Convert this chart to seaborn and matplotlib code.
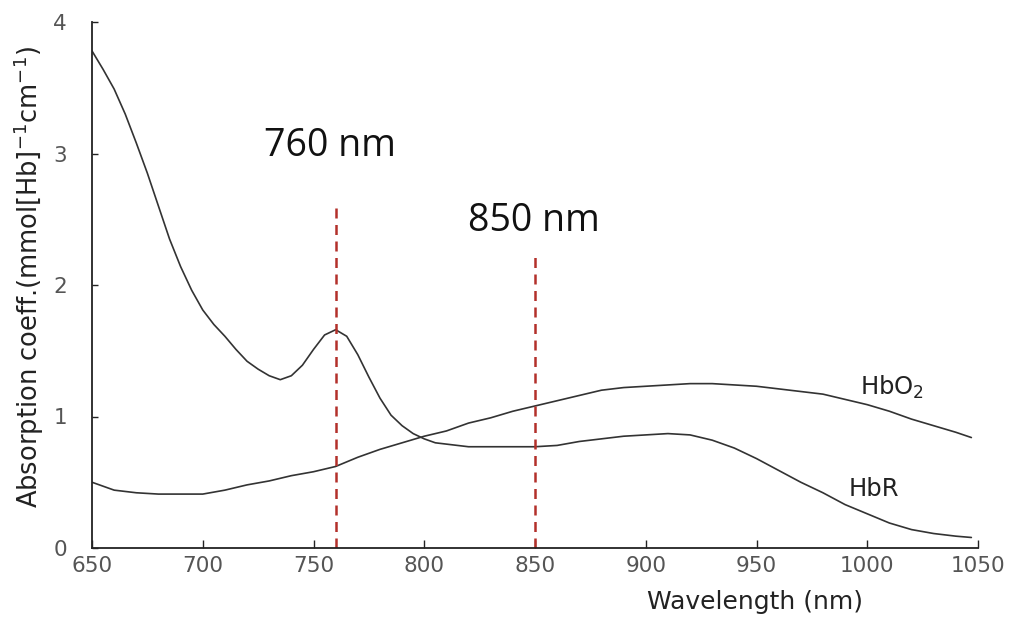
import numpy as np
import pandas as pd
import matplotlib
matplotlib.use("Agg")
import matplotlib.pyplot as plt
import seaborn as sns

# ---- data ----
hbr_wl = [650, 655, 660, 665, 670, 675, 680, 685, 690, 695, 700, 705, 710, 715, 720,
          725, 730, 735, 740, 745, 750, 755, 760, 765, 770, 775, 780, 785, 790, 795,
          800, 805, 810, 820, 830, 840, 850, 860, 870, 880, 890, 900, 910, 920, 930,
          940, 950, 960, 970, 980, 990, 1000, 1010, 1020, 1030, 1040, 1047]
hbr_val = [3.78, 3.64, 3.49, 3.30, 3.08, 2.85, 2.60, 2.35, 2.14, 1.96, 1.81, 1.70, 1.61,
           1.51, 1.42, 1.36, 1.31, 1.28, 1.31, 1.39, 1.51, 1.62, 1.66, 1.61, 1.47, 1.30,
           1.14, 1.01, 0.93, 0.87, 0.83, 0.80, 0.79, 0.77, 0.77, 0.77, 0.77, 0.78, 0.81,
           0.83, 0.85, 0.86, 0.87, 0.86, 0.82, 0.76, 0.68, 0.59, 0.50, 0.42, 0.33, 0.26,
           0.19, 0.14, 0.11, 0.09, 0.08]

hbo2_wl = [650, 660, 670, 680, 690, 700, 710, 720, 730, 740, 750, 760, 770, 780, 790,
           800, 810, 820, 830, 840, 850, 860, 870, 880, 890, 900, 910, 920, 930, 940,
           950, 960, 970, 980, 990, 1000, 1010, 1020, 1030, 1040, 1047]
hbo2_val = [0.50, 0.44, 0.42, 0.41, 0.41, 0.41, 0.44, 0.48, 0.51, 0.55, 0.58, 0.62, 0.69,
            0.75, 0.80, 0.85, 0.89, 0.95, 0.99, 1.04, 1.08, 1.12, 1.16, 1.20, 1.22, 1.23,
            1.24, 1.25, 1.25, 1.24, 1.23, 1.21, 1.19, 1.17, 1.13, 1.09, 1.04, 0.98, 0.93,
            0.88, 0.84]

marker_wl = [760, 850]
marker_top = [2.62, 2.23]
marker_labels = ["760 nm", "850 nm"]
marker_label_pos = [(757.5, 3.06), (849.5, 2.49)]

curve_labels = ["HbO$_2$", "HbR"]
curve_label_pos = [(1011, 1.22), (1003, 0.45)]

x_ticks = [650, 700, 750, 800, 850, 900, 950, 1000, 1050]
y_ticks = [0, 1, 2, 3, 4]

df = pd.concat([
    pd.DataFrame({"wl": hbr_wl, "val": hbr_val, "species": "HbR"}),
    pd.DataFrame({"wl": hbo2_wl, "val": hbo2_val, "species": "HbO2"}),
])

sns.set_theme(style="ticks")
plt.rcParams["font.family"] = ["DejaVu Sans"]

fig = plt.figure(figsize=(10.2, 6.2), dpi=100)
ax = fig.add_axes([92 / 1020, 1 - 548 / 620, 886 / 1020, 526 / 620])

for sp in ["HbR", "HbO2"]:
    sns.lineplot(data=df[df["species"] == sp], x="wl", y="val", ax=ax,
                 color="#333333", linewidth=1.2, sort=False, legend=False)

for wl, top in zip(marker_wl, marker_top):
    ax.plot([wl, wl], [0, top], color="#b3302a", linewidth=1.8,
            linestyle=(0, (4, 2.6)))

for txt, (x, y) in zip(marker_labels, marker_label_pos):
    ax.text(x, y, txt, fontsize=27, family="Open Sans", color="#111111",
            ha="center", va="center")

for txt, (x, y) in zip(curve_labels, curve_label_pos):
    ax.text(x, y, txt, fontsize=17.5, color="#222222", ha="center", va="center")

ax.set_xlim(650, 1050)
ax.set_ylim(0, 4)
ax.set_xticks(x_ticks)
ax.set_yticks(y_ticks)
ax.set_xticklabels([str(t) for t in x_ticks])
ax.set_yticklabels([str(t) for t in y_ticks])

sns.despine(ax=ax)
for s in ["left", "bottom"]:
    ax.spines[s].set_color("#222222")
    ax.spines[s].set_linewidth(1.3)

ax.tick_params(axis="x", direction="in", length=6, width=1, colors="#222222",
               labelsize=15.5, labelcolor="#555555", pad=6)
ax.tick_params(axis="y", direction="in", length=4, width=1, colors="#222222",
               labelsize=15.5, labelcolor="#555555", pad=18)

ax.set_xlabel("Wavelength (nm)", fontsize=18, color="#222222")
ax.set_ylabel("Absorption coeff.(mmol[Hb]$^{-1}$cm$^{-1}$)", fontsize=18.5,
              color="#222222")
ax.xaxis.set_label_coords(0.748, -0.080)
ax.yaxis.set_label_coords(-0.052, 0.515)

fig.savefig("out.png", dpi=100)
